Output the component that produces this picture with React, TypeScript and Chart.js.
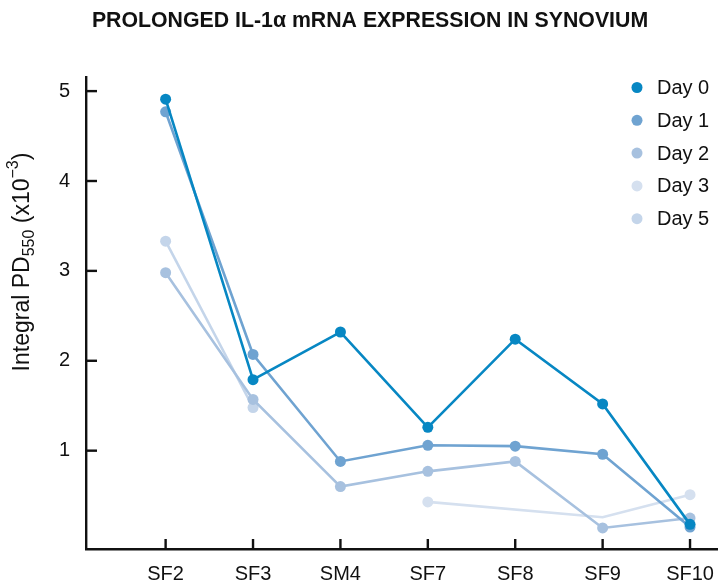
import React, { useEffect, useRef } from 'react';
import { Chart, registerables } from 'chart.js';

Chart.register(...registerables);

// ---- data ----
const categories = ['SF2', 'SF3', 'SM4', 'SF7', 'SF8', 'SF9', 'SF10'];
const day0 = [4.91, 1.79, 2.32, 1.26, 2.24, 1.52, 0.18];
const day1 = [4.77, 2.07, 0.88, 1.06, 1.05, 0.96, 0.15];
const day2 = [2.98, 1.57, 0.6, 0.77, 0.88, 0.14, 0.25];
const day3 = [null, null, null, 0.43, null, 0.26, 0.51];
const day5 = [3.33, 1.48, null, null, null, null, null];
const seriesNames = ['Day 0', 'Day 1', 'Day 2', 'Day 3', 'Day 5'];
const yTicks = [1, 2, 3, 4, 5];
const titleText = 'PROLONGED IL-1\u03B1 mRNA EXPRESSION IN SYNOVIUM';

const colors = ['#0787c3', '#6fa3d1', '#a7c1df', '#d5e0ef', '#c4d5ea'];
const FONT = '"Liberation Sans", Arial, Helvetica, sans-serif';

function toPoints(arr: (number | null)[]) {
  return arr.map((v, i) => ({ x: i, y: v }));
}

function drawTickMarks(chart: any) {
  const ctx = chart.ctx;
  const area = chart.chartArea;
  const xs = chart.scales.x;
  const ys = chart.scales.y;
  ctx.save();
  ctx.fillStyle = '#111111';
  for (const v of yTicks) {
    const p = ys.getPixelForValue(v);
    ctx.fillRect(area.left, p - 1.2, 11, 2.4);
  }
  for (let i = 0; i < categories.length; i++) {
    const p = xs.getPixelForValue(i);
    ctx.fillRect(p - 1.2, area.bottom - 10, 2.4, 10);
  }
  ctx.restore();
}

const decorPlugin = {
  id: 'decor',
  afterDraw(chart: any) {
    const ctx = chart.ctx;
    drawTickMarks(chart);
    ctx.save();
    // title
    ctx.fillStyle = '#111';
    ctx.font = 'bold 21.3px ' + FONT;
    ctx.textAlign = 'center';
    ctx.textBaseline = 'middle';
    ctx.fillText(titleText, 370, 21);

    // y axis title with sub/superscript
    const big = '23px ' + FONT;
    const small = '16px ' + FONT;
    const segs = [
      { t: 'Integral PD', f: big, dy: 0 },
      { t: '550', f: small, dy: 7 },
      { t: ' (x10', f: big, dy: 0 },
      { t: '\u22123', f: small, dy: -9 },
      { t: ')', f: big, dy: 0 },
    ];
    let total = 0;
    segs.forEach((s) => {
      ctx.font = s.f;
      total += ctx.measureText(s.t).width;
    });
    ctx.translate(23, 262);
    ctx.rotate(-Math.PI / 2);
    ctx.textAlign = 'left';
    ctx.textBaseline = 'middle';
    let cx = -total / 2;
    segs.forEach((s) => {
      ctx.font = s.f;
      ctx.fillText(s.t, cx, s.dy);
      cx += ctx.measureText(s.t).width;
    });
    ctx.setTransform(1, 0, 0, 1, 0, 0);

    // legend
    ctx.font = '20px ' + FONT;
    ctx.textAlign = 'left';
    ctx.textBaseline = 'middle';
    seriesNames.forEach((name, i) => {
      const y = 87.5 + i * 32.8;
      ctx.fillStyle = colors[i];
      ctx.beginPath();
      ctx.arc(637, y, 5.5, 0, Math.PI * 2);
      ctx.fill();
      ctx.fillStyle = '#111';
      ctx.fillText(name, 657, y + 1);
    });
    ctx.restore();
  },
};

export default function App() {
  const ref = useRef<HTMLCanvasElement>(null);
  useEffect(() => {
    document.body.style.margin = '0';
    const seriesData = [day0, day1, day2, day3, day5];
    const chart = new Chart(ref.current as HTMLCanvasElement, {
      type: 'line',
      data: {
        datasets: seriesData.map((d, i) => ({
          label: seriesNames[i],
          data: toPoints(d),
          borderColor: colors[i],
          backgroundColor: colors[i],
          pointBackgroundColor: colors[i],
          pointBorderWidth: 0,
          pointRadius: i === 3 ? [5.5, 5.5, 5.5, 5.5, 5.5, 0, 5.5] : 5.5,
          borderWidth: 2.6,
          spanGaps: true,
          tension: 0,
        })),
      },
      options: {
        animation: false,
        responsive: false,
        devicePixelRatio: 1,
        events: [],
        layout: { autoPadding: false, padding: { top: 77, left: 0, right: 0, bottom: 0 } },
        plugins: {
          legend: { display: false },
          title: { display: false },
          tooltip: { enabled: false },
        },
        scales: {
          x: {
            type: 'linear',
            min: -0.911,
            max: 6.32,
            afterBuildTicks: (s: any) => {
              s.ticks = categories.map((_, i) => ({ value: i }));
            },
            afterFit: (s: any) => {
              s.height = 32;
              s.paddingLeft = 0;
              s.paddingRight = 0;
            },
            grid: { display: false, drawTicks: false },
            border: { display: true, color: '#111', width: 2.4 },
            ticks: {
              autoSkip: false,
              maxRotation: 0,
              padding: 13,
              color: '#111',
              font: { family: FONT, size: 20 },
              callback: (v: any) => categories[v] ?? '',
            },
          },
          y: {
            type: 'linear',
            min: -0.094,
            max: 5.157,
            afterBuildTicks: (s: any) => {
              s.ticks = yTicks.map((v) => ({ value: v }));
            },
            afterFit: (s: any) => {
              s.width = 86;
              s.paddingTop = 0;
              s.paddingBottom = 0;
            },
            grid: { display: false, drawTicks: false },
            border: { display: true, color: '#111', width: 2.4 },
            ticks: {
              padding: 16,
              color: '#111',
              font: { family: FONT, size: 20 },
            },
          },
        },
      },
      plugins: [decorPlugin],
    } as any);
    return () => chart.destroy();
  }, []);
  return (
    <div style={{ width: 718, height: 581, position: 'relative' }}>
      <canvas ref={ref} width={718} height={581} />
    </div>
  );
}
